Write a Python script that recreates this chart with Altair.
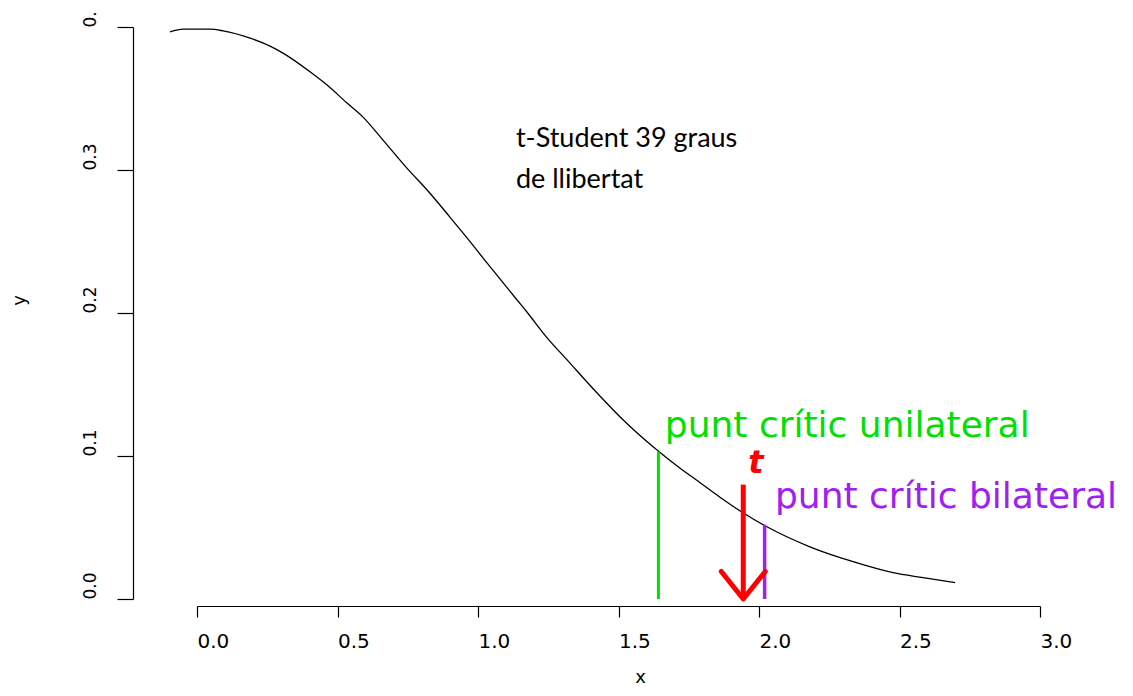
import altair as alt
import pandas as pd

# Density curve
curve_x = [-0.096, -0.050, 0.046, 0.093, 0.189, 0.260, 0.306, 0.402, 0.463, 0.534,
           0.591, 0.662, 0.747, 0.819, 0.900, 0.961, 1.032, 1.139, 1.174, 1.246,
           1.317, 1.423, 1.516, 1.623, 1.719, 1.765, 1.861, 1.943, 2.028, 2.181,
           2.335, 2.477, 2.584, 2.698]
curve_y = [0.3966, 0.3985, 0.3985, 0.3973, 0.3922, 0.3866, 0.3817, 0.3687, 0.3594, 0.3468,
           0.3370, 0.3209, 0.3013, 0.2860, 0.2671, 0.2525, 0.2350, 0.2091, 0.2007, 0.1826,
           0.1672, 0.1442, 0.1253, 0.1064, 0.0915, 0.0850, 0.0712, 0.0603, 0.0505, 0.0365,
           0.0261, 0.0184, 0.0149, 0.0114]

# Critical points and observed t
crit_names = ["unilateral", "bilateral"]
crit_x = [1.642, 2.020]
crit_top = [0.103, 0.052]
t_x = 1.944
t_top = 0.080

# Annotation texts
label_texts = ["punt crític unilateral", "punt crític bilateral"]
label_x = [1.665, 2.057]
label_y = [0.1136, 0.0636]
info_lines = ["t-Student 39 graus", "de llibertat"]
info_x = [1.135, 1.135]
info_y = [0.3163, 0.2872]

x_ticks = [0.0, 0.5, 1.0, 1.5, 2.0, 2.5, 3.0]
y_ticks = [0.0, 0.1, 0.2, 0.3, 0.4]

GREEN = "#00E000"
PURPLE = "#A020F0"
RED = "#FF0000"

curve = pd.DataFrame({"x": curve_x, "y": curve_y})
xs = alt.Scale(domain=[0, 3], nice=False, zero=False)
ys = alt.Scale(domain=[0, 0.4], nice=False, zero=False)

x_axis = alt.Axis(values=x_ticks, format=".1f", grid=False, offset=7,
                  domainColor="black", domainWidth=1.2, tickColor="black", tickSize=11,
                  tickWidth=1.2, labelAlign="left", labelBaseline="alphabetic",
                  labelPadding=30, labelFont="DejaVu Sans", labelFontSize=20,
                  labelColor="black", labelFlush=False, labelOverlap=False,
                  titleFont="DejaVu Sans", titleFontSize=18, titleFontWeight="normal",
                  titleColor="black", titleX=443, titleY=76, titleAlign="center",
                  titleBaseline="alphabetic")
y_axis = alt.Axis(values=y_ticks, grid=False, offset=64,
                  labelExpr="datum.value >= 0.4 ? '0.' : format(datum.value, '.1f')",
                  domainColor="black", domainWidth=1.2, tickColor="black", tickSize=16,
                  tickWidth=1.2, labelAngle=270, labelAlign="left", labelBaseline="alphabetic",
                  labelPadding=22, labelFont="DejaVu Sans", labelFontSize=17,
                  labelColor="black", labelFlush=False, labelOverlap=False,
                  titleFont="DejaVu Sans", titleFontSize=18, titleFontWeight="normal",
                  titleColor="black", titleAngle=270, titleX=-109, titleY=273,
                  titleAlign="center", titleBaseline="alphabetic")

line = alt.Chart(curve).mark_line(color="black", strokeWidth=1.3, interpolate="monotone").encode(
    x=alt.X("x:Q", scale=xs, axis=x_axis, title="x"),
    y=alt.Y("y:Q", scale=ys, axis=y_axis, title="y"),
)

crit = pd.DataFrame({"name": crit_names, "x": crit_x, "y0": [0, 0], "y1": crit_top})
green_rule = alt.Chart(crit[crit.name == "unilateral"]).mark_rule(color=GREEN, strokeWidth=3).encode(
    x="x:Q", y="y0:Q", y2="y1:Q")
purple_rule = alt.Chart(crit[crit.name == "bilateral"]).mark_rule(color=PURPLE, strokeWidth=3.5).encode(
    x="x:Q", y="y0:Q", y2="y1:Q")

tdf = pd.DataFrame({"x": [t_x], "y0": [0.0], "y1": [t_top], "label": ["t"],
                    "lx": [1.989], "ly": [0.0883]})
red_rule = alt.Chart(tdf).mark_rule(color=RED, strokeWidth=5).encode(x="x:Q", y="y0:Q", y2="y1:Q")
red_head = alt.Chart(tdf).mark_point(
    shape="M -1 -1.25 L 0 0 L 1 -1.25", filled=False, stroke=RED, strokeWidth=5,
    size=1936, opacity=1, strokeCap="round", strokeJoin="round").encode(x="x:Q", y="y0:Q")
t_text = alt.Chart(tdf).mark_text(color=RED, font="DejaVu Sans", fontSize=32, fontWeight="bold",
                                  fontStyle="italic", align="center", baseline="alphabetic").encode(
    x="lx:Q", y="ly:Q", text="label:N")

labels = pd.DataFrame({"text": label_texts, "x": label_x, "y": label_y, "c": [GREEN, PURPLE]})
label_marks = alt.Chart(labels).mark_text(font="DejaVu Sans", fontSize=36, align="left",
                                          baseline="alphabetic").encode(
    x="x:Q", y="y:Q", text="text:N", color=alt.Color("c:N", scale=None))

info = pd.DataFrame({"text": info_lines, "x": info_x, "y": info_y})
info_marks = alt.Chart(info).mark_text(font="Lato", fontSize=27, align="left", baseline="alphabetic",
                                       color="black").encode(x="x:Q", y="y:Q", text="text:N")

chart = alt.layer(line, green_rule, purple_rule, red_rule, red_head, t_text, label_marks, info_marks).properties(
    width=843, height=572,
    autosize=alt.AutoSizeParams(type="none"),
    padding={"left": 189, "top": 19, "right": 85, "bottom": 89},
    background="white",
).configure_view(stroke=None)

chart.save("out.html", embed_options={"renderer": "svg", "actions": False})
